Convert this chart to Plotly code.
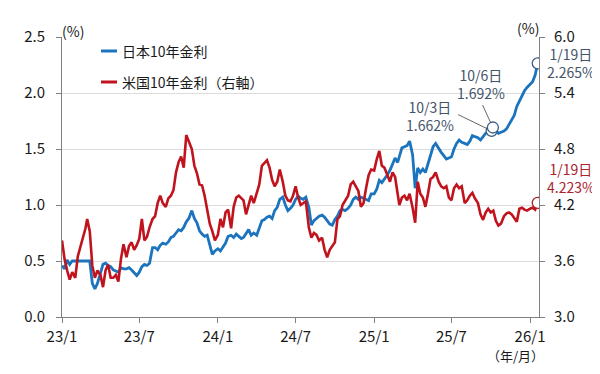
import pandas as pd
import plotly.graph_objects as go

# ---------------- data ----------------
# 5 readings per month (days 1, 7, 13, 19, 25), Jan-2023 .. Dec-2025, then Jan-2026 (1, 7, 13, 19)
sample_days = [1, 7, 13, 19, 25]
last_month_days = [1, 7, 13, 19]

jgb_10y = [
    0.46, 0.43, 0.51, 0.47, 0.50,   # 2023-01
    0.50, 0.50, 0.50, 0.50, 0.50,   # 2023-02
    0.50, 0.50, 0.30, 0.25, 0.30,   # 2023-03
    0.40, 0.47, 0.48, 0.46, 0.45,   # 2023-04
    0.42, 0.41, 0.40, 0.44, 0.43,   # 2023-05
    0.43, 0.44, 0.42, 0.39, 0.37,   # 2023-06
    0.40, 0.45, 0.47, 0.46, 0.48,   # 2023-07
    0.62, 0.62, 0.60, 0.64, 0.66,   # 2023-08
    0.65, 0.67, 0.71, 0.72, 0.75,   # 2023-09
    0.78, 0.77, 0.80, 0.85, 0.88,   # 2023-10
    0.95, 0.88, 0.84, 0.77, 0.74,   # 2023-11
    0.72, 0.73, 0.64, 0.56, 0.59,   # 2023-12
    0.61, 0.59, 0.63, 0.66, 0.72,   # 2024-01
    0.73, 0.71, 0.74, 0.72, 0.70,   # 2024-02
    0.71, 0.74, 0.78, 0.73, 0.75,   # 2024-03
    0.73, 0.79, 0.86, 0.87, 0.89,   # 2024-04
    0.90, 0.88, 0.95, 0.98, 1.05,   # 2024-05
    1.07, 1.00, 0.95, 0.97, 1.00,   # 2024-06
    1.05, 1.08, 1.06, 1.05, 1.07,   # 2024-07
    0.98, 0.82, 0.86, 0.88, 0.90,   # 2024-08
    0.91, 0.89, 0.86, 0.83, 0.82,   # 2024-09
    0.87, 0.90, 0.95, 0.96, 0.95,   # 2024-10
    0.97, 1.00, 1.05, 1.07, 1.05,   # 2024-11
    1.07, 1.06, 1.05, 1.04, 1.10,   # 2024-12
    1.10, 1.14, 1.22, 1.20, 1.23,   # 2025-01
    1.27, 1.31, 1.36, 1.42, 1.38,   # 2025-02
    1.43, 1.51, 1.52, 1.53, 1.57,   # 2025-03
    1.45, 1.15, 1.33, 1.29, 1.32,   # 2025-04
    1.29, 1.36, 1.45, 1.52, 1.55,   # 2025-05
    1.50, 1.47, 1.44, 1.41, 1.42,   # 2025-06
    1.43, 1.50, 1.55, 1.58, 1.56,   # 2025-07
    1.55, 1.54, 1.57, 1.62, 1.61,   # 2025-08
    1.60, 1.58, 1.61, 1.64, 1.65,   # 2025-09
    1.66, 1.69, 1.66, 1.64, 1.65,   # 2025-10
    1.66, 1.68, 1.72, 1.76, 1.80,   # 2025-11
    1.88, 1.93, 1.97, 2.02, 2.05,   # 2025-12
    2.08, 2.10, 2.16, 2.265,        # 2026-01
]

ust_10y = [
    3.82, 3.62, 3.50, 3.40, 3.48,   # 2023-01
    3.42, 3.65, 3.75, 3.86, 3.95,   # 2023-02
    4.05, 3.92, 3.55, 3.42, 3.50,   # 2023-03
    3.45, 3.32, 3.50, 3.56, 3.42,   # 2023-04
    3.42, 3.45, 3.38, 3.62, 3.78,   # 2023-05
    3.64, 3.76, 3.80, 3.72, 3.77,   # 2023-06
    3.84, 4.05, 3.82, 3.86, 3.96,   # 2023-07
    4.05, 4.08, 4.22, 4.30, 4.22,   # 2023-08
    4.18, 4.27, 4.30, 4.36, 4.55,   # 2023-09
    4.66, 4.72, 4.60, 4.95, 4.88,   # 2023-10
    4.80, 4.62, 4.54, 4.42, 4.41,   # 2023-11
    4.30, 4.15, 4.00, 3.92, 3.82,   # 2023-12
    3.88, 4.05, 3.96, 4.12, 4.15,   # 2024-01
    3.95, 4.18, 4.28, 4.30, 4.27,   # 2024-02
    4.25, 4.10, 4.20, 4.30, 4.22,   # 2024-03
    4.33, 4.42, 4.62, 4.65, 4.68,   # 2024-04
    4.60, 4.47, 4.40, 4.45, 4.58,   # 2024-05
    4.45, 4.30, 4.25, 4.24, 4.30,   # 2024-06
    4.40, 4.28, 4.20, 4.22, 4.24,   # 2024-07
    3.96, 3.85, 3.90, 3.88, 3.82,   # 2024-08
    3.85, 3.72, 3.64, 3.72, 3.76,   # 2024-09
    3.80, 4.05, 4.08, 4.20, 4.25,   # 2024-10
    4.30, 4.42, 4.45, 4.40, 4.35,   # 2024-11
    4.18, 4.22, 4.38, 4.52, 4.58,   # 2024-12
    4.57, 4.69, 4.78, 4.62, 4.60,   # 2025-01
    4.52, 4.45, 4.55, 4.50, 4.32,   # 2025-02
    4.20, 4.28, 4.30, 4.25, 4.32,   # 2025-03
    4.17, 4.01, 4.45, 4.32, 4.28,   # 2025-04
    4.18, 4.32, 4.48, 4.50, 4.55,   # 2025-05
    4.45, 4.40, 4.38, 4.40, 4.28,   # 2025-06
    4.25, 4.38, 4.42, 4.38, 4.40,   # 2025-07
    4.22, 4.25, 4.30, 4.33, 4.27,   # 2025-08
    4.22, 4.10, 4.04, 4.12, 4.16,   # 2025-09
    4.12, 4.14, 4.03, 3.98, 4.00,   # 2025-10
    4.08, 4.11, 4.12, 4.10, 4.06,   # 2025-11
    4.02, 4.16, 4.17, 4.15, 4.14,   # 2025-12
    4.16, 4.17, 4.15, 4.223,        # 2026-01
]

# highlighted points
jgb_mark_dates = ["2025-10-03", "2025-10-06", "2026-01-19"]
jgb_mark_values = [1.662, 1.692, 2.265]
ust_mark_dates = ["2026-01-19"]
ust_mark_values = [4.223]

x_tick_dates = ["2023-01-01", "2023-07-01", "2024-01-01", "2024-07-01",
                "2025-01-01", "2025-07-01", "2026-01-01"]
x_tick_labels = ["23/1", "23/7", "24/1", "24/7", "25/1", "25/7", "26/1"]
y_left_ticks = [0.0, 0.5, 1.0, 1.5, 2.0, 2.5]
y_right_ticks = [3.0, 3.6, 4.2, 4.8, 5.4, 6.0]

name_jgb = "日本10年金利"
name_ust = "米国10年金利（右軸）"

# ---------------- dates ----------------
dates = []
for m in pd.date_range("2023-01-01", "2025-12-01", freq="MS"):
    for d in sample_days:
        dates.append(m + pd.Timedelta(days=d - 1))
for d in last_month_days:
    dates.append(pd.Timestamp(2026, 1, d))
assert len(dates) == len(jgb_10y) == len(ust_10y), (len(dates), len(jgb_10y), len(ust_10y))

FONT = "Noto Sans CJK JP, Noto Sans, sans-serif"
BLUE = "#1b74bd"
RED = "#c0131d"
LBL_BLUE = "#44546a"
LBL_RED = "#a9232d"
AXIS = "#808080"
TXT = "#1a1a1a"

fig = go.Figure()
fig.add_trace(go.Scatter(x=dates, y=jgb_10y, mode="lines", name=name_jgb,
                         line=dict(color=BLUE, width=2.8), yaxis="y"))
fig.add_trace(go.Scatter(x=dates, y=ust_10y, mode="lines", name=name_ust,
                         line=dict(color=RED, width=2.6), yaxis="y2"))
fig.add_trace(go.Scatter(x=jgb_mark_dates, y=jgb_mark_values, mode="markers", yaxis="y",
                         marker=dict(symbol="circle", size=11, color="white",
                                     line=dict(color="#3d5f86", width=1.3))))
fig.add_trace(go.Scatter(x=ust_mark_dates, y=ust_mark_values, mode="markers", yaxis="y2",
                         marker=dict(symbol="circle", size=11, color="white",
                                     line=dict(color=LBL_RED, width=1.3))))

# page has an 8px body margin: figure is 592x366 so that it fills the 600x374 window
OFF = 8
W, H = 592, 366
# plot area in window pixels: x 62..539, y 37..317
PL = 62 - OFF
PT = 37 - OFF
PR = W - (539 - OFF)
PB = H - (317 - OFF)
pw, ph = W - PL - PR, H - PT - PB


def px(x):  # window pixel -> paper
    return (x - 62) / pw


def py(y):
    return (317 - y) / ph


def paper_text(text, x, y, size=14, color=TXT, xanchor="center"):
    return dict(text=text, x=px(x), y=py(y), xref="paper", yref="paper", showarrow=False,
                xanchor=xanchor, yanchor="middle", font=dict(size=size, color=color, family=FONT))


ann = [
    paper_text("(%)", 73, 31),
    paper_text("(%)", 528, 28),
    paper_text("（年/月）", 515, 355, size=13),
    paper_text(name_jgb, 120, 51, xanchor="left"),
    paper_text(name_ust, 120, 82, xanchor="left"),
]

# callouts
def data_text(text, x, y, yref, xs, ys, color):
    return dict(text=text, x=x, y=y, xref="x", yref=yref, showarrow=False,
                xshift=xs, yshift=ys, align="center", xanchor="center", yanchor="middle",
                font=dict(size=14, color=color, family=FONT))


ann += [
    data_text("10/3日<br>1.662%", jgb_mark_dates[0], jgb_mark_values[0], "y", -62, 15, LBL_BLUE),
    data_text("10/6日<br>1.692%", jgb_mark_dates[1], jgb_mark_values[1], "y", -12, 44, LBL_BLUE),
    data_text("1/19日<br>2.265%", jgb_mark_dates[2], jgb_mark_values[2], "y", 33, 0, LBL_BLUE),
    data_text("1/19日<br>4.223%", ust_mark_dates[0], ust_mark_values[0], "y2", 33, 25, LBL_RED),
]
# leader lines
ann.append(dict(text="", x=jgb_mark_dates[0], y=jgb_mark_values[0], xref="x", yref="y",
                showarrow=True, arrowhead=0, arrowwidth=0.9, arrowcolor="#555555",
                ax=-35, ay=-17, standoff=5))
ann.append(dict(text="", x=jgb_mark_dates[1], y=jgb_mark_values[1], xref="x", yref="y",
                showarrow=True, arrowhead=0, arrowwidth=0.9, arrowcolor="#555555",
                ax=-11, ay=-24, standoff=5))

shapes = [
    dict(type="line", xref="paper", yref="paper", x0=px(101), x1=px(117), y0=py(51), y1=py(51),
         line=dict(color=BLUE, width=3)),
    dict(type="line", xref="paper", yref="paper", x0=px(101), x1=px(117), y0=py(82), y1=py(82),
         line=dict(color=RED, width=3)),
]

tickfont = dict(size=15, color=TXT, family=FONT)
fig.update_layout(
    width=W, height=H,
    margin=dict(l=PL, r=PR, t=PT, b=PB, pad=0),
    paper_bgcolor="white", plot_bgcolor="white",
    showlegend=False,
    font=dict(family=FONT),
    annotations=ann, shapes=shapes,
    xaxis=dict(type="date", range=["2023-01-01", "2026-01-22"],
               tickvals=x_tick_dates, ticktext=x_tick_labels,
               ticks="outside", ticklen=5, tickcolor=AXIS, tickwidth=1,
               showline=True, linecolor=AXIS, linewidth=1,
               showgrid=False, zeroline=False, tickfont=tickfont, ticklabelstandoff=1),
    yaxis=dict(range=[0, 2.5], tickvals=y_left_ticks,
               ticktext=[f"{v:.1f}" for v in y_left_ticks],
               ticks="outside", ticklen=5, tickcolor=AXIS,
               showline=True, linecolor=AXIS, linewidth=1,
               showgrid=True, gridcolor="#dcdcdc", gridwidth=1,
               zeroline=False, tickfont=tickfont, ticklabelstandoff=8),
    yaxis2=dict(range=[3.0, 6.0], tickvals=y_right_ticks,
                ticktext=[f"{v:.1f}" for v in y_right_ticks],
                overlaying="y", side="right",
                ticks="outside", ticklen=5, tickcolor=AXIS,
                showline=True, linecolor=AXIS, linewidth=1,
                showgrid=False, zeroline=False, tickfont=tickfont, ticklabelstandoff=6),
)

fig.write_html("out.html")
